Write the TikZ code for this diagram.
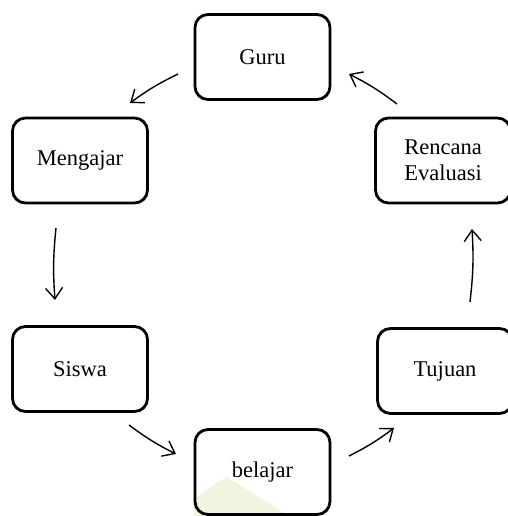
\documentclass[tikz,border=0pt]{standalone}
\usepackage{fontspec}
\setmainfont{Liberation Serif}
\usetikzlibrary{arrows.meta}
\definecolor{wmcol}{RGB}{241,244,222}
\begin{document}
\begin{tikzpicture}[x=1pt,y=-1pt,
  box/.style={draw, line width=2.8pt, rounded corners=13pt, minimum width=135pt,
    minimum height=85pt, inner sep=0pt, align=center,
    font=\fontsize{22.5}{26}\selectfont},
  link/.style={-{Straight Barb[length=11pt,width=17pt,line width=1.4pt]},
    line width=1.4pt, bend right=5}]
\useasboundingbox (0,0) rectangle (507,516);
% faint watermark
\fill[wmcol] (193,500) .. controls (203,492) and (215,484) .. (227,477)
  .. controls (248,490) and (272,505) .. (288,516) -- (193,516) -- cycle;
% boxes
\node[box] (guru) at (262.5,57) {Guru};
\node[box] (mengajar) at (80,160.5) {Mengajar};
\node[box] (rencana) at (443,160.5) {Rencana\\Evaluasi};
\node[box] (siswa) at (80,369) {Siswa};
\node[box] (tujuan) at (445,371) {Tujuan};
\node[box] (belajar) at (262.5,472) {belajar};
% arrow endpoints
\coordinate (a1s) at (178,74);  \coordinate (a1e) at (130,103);
\coordinate (a2s) at (56,228);  \coordinate (a2e) at (55,300);
\coordinate (a3s) at (129,425); \coordinate (a3e) at (176,454);
\coordinate (a4s) at (349,456); \coordinate (a4e) at (394,428);
\coordinate (a5s) at (470,302); \coordinate (a5e) at (472,229);
\coordinate (a6s) at (397,104); \coordinate (a6e) at (349,74);
\draw[link] (a1s) to (a1e);
\draw[link] (a2s) to (a2e);
\draw[link] (a3s) to (a3e);
\draw[link] (a4s) to (a4e);
\draw[link] (a5s) to (a5e);
\draw[link] (a6s) to (a6e);
\end{tikzpicture}
\end{document}
